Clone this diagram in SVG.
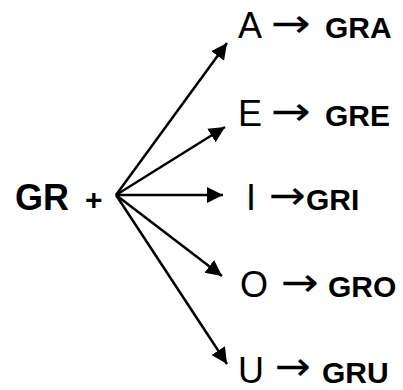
<svg xmlns="http://www.w3.org/2000/svg" width="403" height="390" viewBox="0 0 403 390">
<style>
.r{font-family:"Liberation Sans",Arial,sans-serif;font-size:36px;fill:#000}
.b{font-family:"Liberation Sans",Arial,sans-serif;font-size:30px;font-weight:bold;fill:#000}
.ar{font-family:"DejaVu Sans",sans-serif;font-size:40px;fill:#000}
.c{stroke:#000;stroke-width:2.5;fill:none}
</style>
<defs>
<marker id="h" markerUnits="userSpaceOnUse" markerWidth="20" markerHeight="20" refX="16" refY="8" orient="auto">
<path d="M0,0 L16,8 L0,16 Z" fill="#000"/>
</marker>
</defs>
<g id="src">
<text class="b" x="15" y="210" style="font-size:36px">GR</text>
<text class="b" x="85" y="210" style="font-size:30px">+</text>
</g>
<g id="connectors">
<line class="c" x1="116" y1="195" x2="227" y2="43" marker-end="url(#h)"/>
<line class="c" x1="116" y1="195" x2="225" y2="127" marker-end="url(#h)"/>
<line class="c" x1="116" y1="195" x2="223" y2="195" marker-end="url(#h)"/>
<line class="c" x1="116" y1="195" x2="222" y2="276" marker-end="url(#h)"/>
<line class="c" x1="116" y1="195" x2="227" y2="364" marker-end="url(#h)"/>
</g>
<g id="nA"><text class="r" x="238" y="38">A</text><text class="ar" x="271" y="37" textLength="40" lengthAdjust="spacingAndGlyphs">→</text><text class="b" x="325" y="38">GRA</text></g>
<g id="nE"><text class="r" x="238" y="126">E</text><text class="ar" x="271" y="125" textLength="40" lengthAdjust="spacingAndGlyphs">→</text><text class="b" x="325" y="126">GRE</text></g>
<g id="nI"><text class="r" x="246" y="210">I</text><text class="ar" x="269" y="209" textLength="37" lengthAdjust="spacingAndGlyphs">→</text><text class="b" x="306" y="210">GRI</text></g>
<g id="nO"><text class="r" x="240" y="297">O</text><text class="ar" x="281" y="296" textLength="38" lengthAdjust="spacingAndGlyphs">→</text><text class="b" x="328" y="297">GRO</text></g>
<g id="nU"><text class="r" x="238" y="383">U</text><text class="ar" x="275" y="380" textLength="36" lengthAdjust="spacingAndGlyphs">→</text><text class="b" x="322" y="383">GRU</text></g>
</svg>
